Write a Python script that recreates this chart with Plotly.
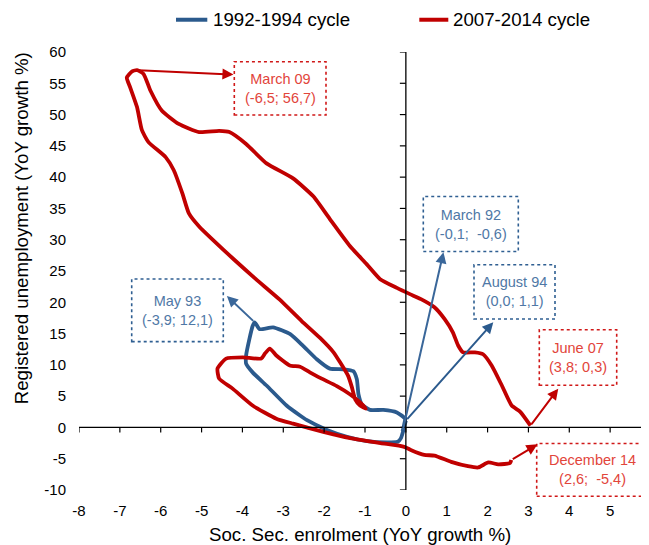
import plotly.graph_objects as go

# ---------------- data ----------------
blue_x = [-0.08, -0.04, -0.02, -0.22, -0.55, -0.88, -1.08, -1.16, -1.20, -1.29, -1.53, -1.86,
          -2.18, -2.51, -2.83, -3.25, -3.58, -3.70, -3.75, -3.83, -3.91, -3.91, -3.75, -3.41,
          -2.92, -2.59, -2.43, -1.93, -1.44, -0.95, -0.45, -0.20, -0.12, -0.05, 0.00]
blue_y = [-0.6, 0.5, 1.4, 2.4, 2.8, 2.8, 3.7, 5.3, 7.7, 9.0, 9.3, 9.4,
          10.9, 13.0, 14.9, 16.0, 15.7, 16.8, 16.2, 14.1, 11.5, 10.2, 8.8, 6.7,
          3.5, 1.9, 1.2, -0.4, -1.5, -2.2, -2.4, -2.3, -1.7, -0.2, 1.1]

red_x = [3.05, 2.80, 2.59, 2.35, 2.10, 1.89, 1.69, 1.40, 1.28, 1.15, 0.95, 0.70, 0.37, 0.10,
         -0.22, -0.63, -0.96, -1.37, -1.86, -2.26, -2.76, -3.41, -3.91, -4.32, -4.57, -5.06,
         -5.56, -5.97, -6.25, -6.42, -6.58, -6.70, -6.83, -6.75, -6.58, -6.46, -6.30, -5.88,
         -5.68, -5.47, -5.31, -5.06, -4.73, -4.20, -3.67, -3.10, -2.55, -2.10, -1.77, -1.61,
         -1.41, -1.32, -1.24, -1.12, -0.98, -1.12, -1.37, -1.69, -2.06, -2.35, -2.59, -2.84,
         -3.17, -3.33, -3.45, -3.54, -3.99, -4.40, -4.61, -4.57, -4.24, -3.75, -3.17, -2.76,
         -2.02, -1.36, -0.62, -0.04, 0.12, 0.45, 0.70, 1.11, 1.52, 1.77, 2.02, 2.26, 2.55, 2.58]
red_y = [0.3, 2.5, 3.5, 6.7, 9.9, 11.7, 12.0, 12.0, 13.1, 15.2, 17.3, 19.2, 20.5, 21.3,
         22.3, 23.7, 26.1, 29.0, 33.3, 36.9, 39.8, 42.2, 45.3, 47.2, 47.4, 47.2,
         48.5, 50.6, 53.8, 56.5, 57.1, 56.9, 55.9, 54.4, 51.2, 47.5, 45.6, 43.2,
         41.1, 37.4, 34.2, 32.1, 30.0, 26.8, 23.7, 20.5, 17.0, 14.3, 12.0, 10.4,
         8.2, 6.4, 4.5, 3.5, 3.0, 4.0, 5.3, 6.6, 7.8, 8.8, 9.7, 9.9,
         11.5, 12.6, 11.8, 11.0, 11.2, 11.0, 9.4, 7.8, 6.2, 3.5, 1.4, 0.6,
         -0.7, -1.7, -2.5, -3.1, -3.6, -4.4, -4.5, -5.5, -6.2, -6.4, -5.6, -5.9, -5.7, -5.2]

series_names = ["1992-1994 cycle", "2007-2014 cycle"]
x_ticks = list(range(-8, 7))
y_ticks = list(range(-10, 61, 5))

x_title = "Soc. Sec. enrolment (YoY growth %)"
y_title = "Registered unemployment (YoY growth %)"

label_march09 = "March 09<br>(-6,5; 56,7)"
label_march92 = "March 92<br>(-0,1;  -0,6)"
label_aug94 = "August 94<br>(0,0; 1,1)"
label_june07 = "June 07<br>(3,8; 0,3)"
label_dec14 = "December 14<br>(2,6;  -5,4)"
label_may93 = "May 93<br>(-3,9; 12,1)"

# ---------------- style ----------------
BLUE = "#2B5A8D"
RED = "#C00000"
BLUE_TXT = "#4F78A6"
RED_TXT = "#E2453B"
FONT = "Liberation Sans, Arial, Helvetica, sans-serif"

# the page body adds an 8px offset; margins below compensate for it
OFF = 8
W, H = 649, 545
ML, MR, MT, MB = 71, 6, 44, 62.5
PW = W - ML - MR
PH = H - MT - MB
XMIN, XMAX, YMIN, YMAX = -8, 6, -10, 60


def px2paper(px, py):
    """page pixel -> paper coordinates"""
    fx, fy = px - OFF, py - OFF
    return (fx - ML) / PW, (H - MB - fy) / PH


fig = go.Figure()
fig.add_trace(go.Scatter(x=blue_x, y=blue_y, mode="lines", name=series_names[0],
                         line=dict(color=BLUE, width=3.8, shape="spline", smoothing=0.5)))
fig.add_trace(go.Scatter(x=red_x, y=red_y, mode="lines", name=series_names[1],
                         line=dict(color=RED, width=3.8, shape="spline", smoothing=0.5)))

shapes = []
# axis lines crossing at zero
shapes.append(dict(type="line", xref="x", yref="y", x0=0, x1=0, y0=YMIN, y1=YMAX,
                   line=dict(color="black", width=1.3)))
shapes.append(dict(type="line", xref="x", yref="y", x0=XMIN, x1=XMAX, y0=0, y1=0,
                   line=dict(color="black", width=1.3)))
for yv in y_ticks:
    shapes.append(dict(type="line", xref="x", yref="y", xsizemode="pixel", xanchor=0,
                       x0=-6, x1=0, y0=yv, y1=yv, line=dict(color="black", width=1.2)))
for xv in x_ticks:
    shapes.append(dict(type="line", xref="x", yref="y", ysizemode="pixel", yanchor=0,
                       x0=xv, x1=xv, y0=0, y1=-5, line=dict(color="black", width=1.2)))

annotations = []


def box(px0, py0, px1, py1, color, text, tcolor):
    x0, y0 = px2paper(px0, py0)
    x1, y1 = px2paper(px1, py1)
    shapes.append(dict(type="rect", xref="paper", yref="paper", x0=x0, x1=x1, y0=y1, y1=y0,
                       line=dict(color=color, width=1.6, dash="dot"), fillcolor="rgba(0,0,0,0)"))
    annotations.append(dict(xref="paper", yref="paper", x=(x0 + x1) / 2, y=(y0 + y1) / 2,
                            text=text, showarrow=False, xanchor="center", yanchor="middle",
                            font=dict(family=FONT, size=14.5, color=tcolor)))


def arrow(tail_x, tail_y, head_x, head_y, color):
    annotations.append(dict(xref="x", yref="y", axref="x", ayref="y", x=head_x, y=head_y,
                            ax=tail_x, ay=tail_y, text="", showarrow=True, arrowhead=2,
                            arrowsize=1.1, arrowwidth=2, arrowcolor=color, standoff=0,
                            startstandoff=0))


# boxes
box(234.3, 61.7, 326, 115, "#D01818", label_march09, RED_TXT)
box(423.3, 196.7, 518.3, 251.7, "#2F5F92", label_march92, BLUE_TXT)
box(474, 265, 555, 319.3, "#2F5F92", label_aug94, BLUE_TXT)
box(539.3, 330, 616.7, 385.7, "#D01818", label_june07, RED_TXT)
box(536.7, 444, 648.3, 496.7, "#D01818", label_dec14, RED_TXT)
box(131.7, 279.3, 223.3, 342, "#2F5F92", label_may93, BLUE_TXT)

# arrows (tails taken from the data series)
ri = red_y.index(max(red_y))
bi = blue_y.index(max(blue_y))
arrow(red_x[ri], red_y[ri], -4.22, 56.4, RED)
arrow(blue_x[0], blue_y[0], 0.92, 28.0, "#3A679A")
arrow(blue_x[-1], blue_y[-1], 2.14, 16.8, BLUE)
arrow(red_x[0], red_y[0], 3.73, 6.2, RED)
arrow(red_x[-1], red_y[-1], 3.22, -2.7, RED)
arrow(blue_x[bi], blue_y[bi], -4.38, 21.0, "#3A679A")

# manual legend at the top
legend_items = [(176, 207.3, 212.7, BLUE, series_names[0]),
                (419.3, 448.3, 453.3, RED, series_names[1])]
for lx0, lx1, tx0, col, name in legend_items:
    a0, yy = px2paper(lx0, 19.7)
    a1, _ = px2paper(lx1, 19.7)
    shapes.append(dict(type="line", xref="paper", yref="paper", x0=a0, x1=a1, y0=yy, y1=yy,
                       line=dict(color=col, width=4)))
    t0, _ = px2paper(tx0 - 2, 19.7)
    annotations.append(dict(xref="paper", yref="paper", x=t0, y=yy, text=name, showarrow=False,
                            xanchor="left", yanchor="middle",
                            font=dict(family=FONT, size=18.7, color="black")))

# axis titles
tx, ty = px2paper(360, 535)
annotations.append(dict(xref="paper", yref="paper", x=tx, y=ty, text=x_title, showarrow=False,
                        xanchor="center", yanchor="middle",
                        font=dict(family=FONT, size=18.7, color="black")))
tx, ty = px2paper(21.5, 229)
annotations.append(dict(xref="paper", yref="paper", x=tx, y=ty, text=y_title, showarrow=False,
                        textangle=-90, xanchor="center", yanchor="middle",
                        font=dict(family=FONT, size=18.7, color="black")))

fig.update_layout(
    width=W, height=H,
    margin=dict(l=ML, r=MR, t=MT, b=MB, pad=0, autoexpand=False),
    paper_bgcolor="white", plot_bgcolor="white",
    font=dict(family=FONT, size=15, color="black"),
    showlegend=False,
    xaxis=dict(range=[XMIN, XMAX], tickvals=x_ticks, ticktext=[str(v) for v in x_ticks],
               showgrid=False, zeroline=False, showline=False, ticks="", automargin=False,
               ticklabelstandoff=10, tickfont=dict(family=FONT, size=15, color="black"),
               fixedrange=True),
    yaxis=dict(range=[YMIN, YMAX], tickvals=y_ticks, ticktext=[str(v) for v in y_ticks],
               showgrid=False, zeroline=False, showline=False, ticks="", automargin=False,
               ticklabelstandoff=12, tickfont=dict(family=FONT, size=15, color="black"),
               fixedrange=True),
    shapes=shapes,
    annotations=annotations,
)

fig.write_html("out.html", config=dict(displayModeBar=False))
